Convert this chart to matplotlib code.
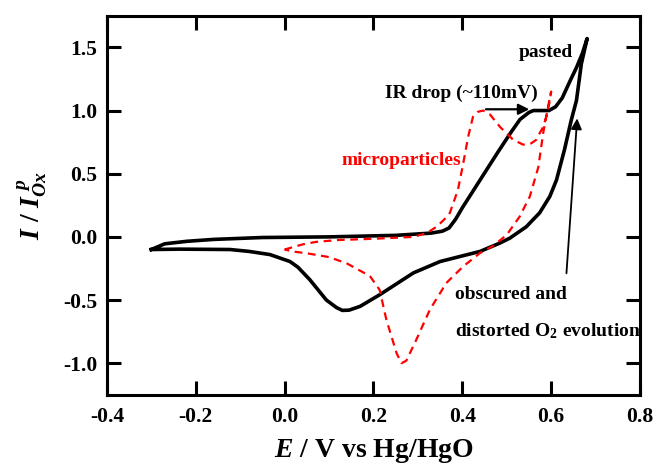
import matplotlib
matplotlib.use('Agg')
import matplotlib.pyplot as plt

plt.rcParams['font.family'] = 'Liberation Serif'
plt.rcParams['font.weight'] = 'bold'
plt.rcParams['axes.labelweight'] = 'bold'
plt.rcParams['mathtext.fontset'] = 'custom'
plt.rcParams['mathtext.rm'] = 'Liberation Serif:bold'
plt.rcParams['mathtext.it'] = 'Liberation Serif:bold:italic'
plt.rcParams['mathtext.bf'] = 'Liberation Serif:bold'

# pasted electrode (black solid), one full cycle
pasted_E = [-0.30, -0.27, -0.22, -0.16, -0.05, 0.10, 0.25, 0.33, 0.355, 0.37,
            0.385, 0.40, 0.44, 0.48, 0.51, 0.53, 0.55, 0.56, 0.595, 0.61,
            0.625, 0.642, 0.657, 0.67, 0.681,
            0.668, 0.657, 0.645, 0.63, 0.612, 0.597, 0.574, 0.544, 0.507, 0.484,
            0.44, 0.35, 0.29, 0.214, 0.17, 0.145, 0.13, 0.117, 0.094, 0.057,
            0.03, 0.012, -0.033, -0.08, -0.123, -0.236, -0.30]
pasted_I = [-0.10, -0.055, -0.035, -0.02, -0.005, 0.0, 0.012, 0.03, 0.045, 0.07,
            0.14, 0.23, 0.45, 0.67, 0.83, 0.93, 0.985, 1.0, 1.0, 1.03,
            1.10, 1.23, 1.34, 1.45, 1.57,
            1.37, 1.08, 0.92, 0.69, 0.45, 0.32, 0.19, 0.08, -0.01, -0.05,
            -0.115, -0.195, -0.285, -0.458, -0.55, -0.58, -0.582, -0.56, -0.50, -0.34,
            -0.24, -0.195, -0.14, -0.115, -0.10, -0.097, -0.10]

# microparticles (red dashed)
micro_E = [0.0, 0.04, 0.07, 0.12, 0.20, 0.29, 0.32, 0.342, 0.36, 0.372,
           0.39, 0.402, 0.413, 0.424, 0.435, 0.447, 0.462, 0.485, 0.514, 0.537,
           0.555, 0.567, 0.574, 0.582, 0.589, 0.596, 0.60,
           0.593, 0.582, 0.571, 0.552, 0.529, 0.50, 0.47, 0.439, 0.402,
           0.364, 0.327, 0.297, 0.274, 0.263, 0.252, 0.229, 0.214, 0.192,
           0.14, 0.10, 0.05, 0.019, 0.0]
micro_I = [-0.10, -0.06, -0.04, -0.025, -0.015, 0.0, 0.03, 0.08, 0.14, 0.19,
           0.37, 0.58, 0.79, 0.95, 0.99, 1.0, 0.97, 0.87, 0.77, 0.73,
           0.74, 0.77, 0.82, 0.87, 0.95, 1.06, 1.15,
           1.03, 0.82, 0.55, 0.32, 0.16, 0.016, -0.07, -0.13, -0.234,
           -0.365, -0.576, -0.81, -0.98, -1.0, -0.92, -0.655, -0.42, -0.31,
           -0.21, -0.16, -0.13, -0.116, -0.10]

xticks = [-0.4, -0.2, 0.0, 0.2, 0.4, 0.6, 0.8]
yticks = [-1.0, -0.5, 0.0, 0.5, 1.0, 1.5]

fig = plt.figure(figsize=(6.56, 4.70), dpi=100)
ax = fig.add_axes([0.163, 0.16, 0.8126, 0.8064])

ax.plot(pasted_E, pasted_I, color='black', lw=2.6, solid_joinstyle='round')
ax.plot(micro_E, micro_I, color='red', lw=1.6, dashes=(3.5, 2.5))

ax.set_xlim(-0.4, 0.8)
ax.set_ylim(-1.25, 1.75)
ax.set_xticks(xticks)
ax.set_yticks(yticks)
ax.set_xticklabels(['%.1f' % v for v in xticks])
ax.set_yticklabels(['%.1f' % v for v in yticks])

for s in ax.spines.values():
    s.set_linewidth(2.2)
ax.tick_params(direction='in', length=10, width=2.2, top=True, right=True,
               labelsize=15.5, pad=7)
ax.tick_params(axis='x', pad=9)

ax.set_xlabel(r'$E$ / V vs Hg/HgO', fontsize=20, labelpad=7)
ax.set_ylabel(r'$I$ / $I_{Ox}^{\ p}$', fontsize=20, labelpad=10)

ax.text(0.589, 1.462, 'pasted', fontsize=14, ha='center', va='center')
ax.text(0.2255, 1.134, 'IR drop (~110mV)', fontsize=14, ha='left', va='center')
ax.annotate('', xy=(0.557, 1.01), xytext=(0.447, 1.01),
            arrowprops=dict(arrowstyle='-|>', color='black', lw=1.6,
                            mutation_scale=16))
ax.text(0.128, 0.607, 'microparticles', fontsize=14, color='red',
        ha='left', va='center')
ax.text(0.383, -0.458, 'obscured and', fontsize=14, ha='left', va='center')
ax.text(0.383, -0.747, r'distorted O$_2$ evolution', fontsize=14,
        ha='left', va='center')
ax.annotate('', xy=(0.659, 0.96), xytext=(0.634, -0.31),
            arrowprops=dict(arrowstyle='-|>', color='black', lw=1.3,
                            mutation_scale=16))

fig.savefig('out.png', dpi=100)
